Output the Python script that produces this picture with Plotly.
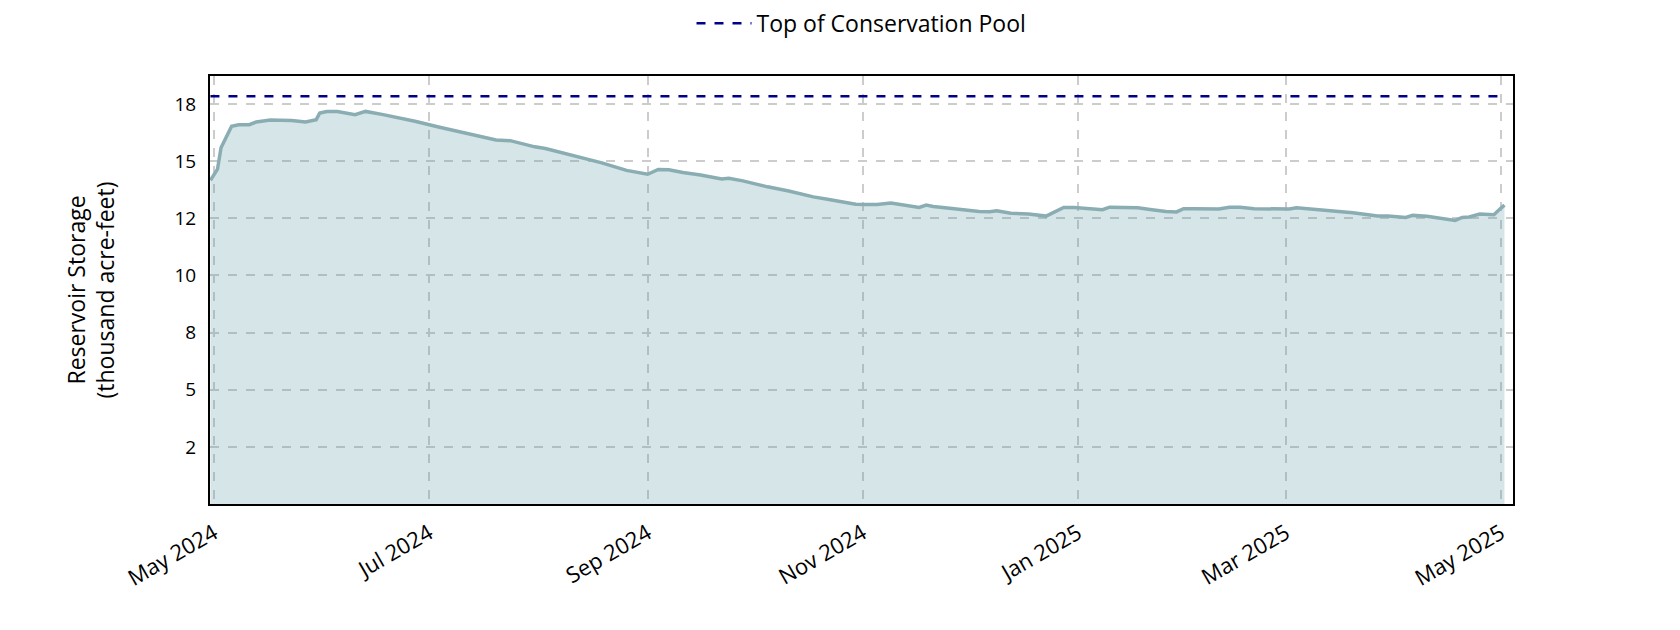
import plotly.graph_objects as go

# storage readings (thousand acre-feet)
dates = [
    "2024-04-30", "2024-05-02", "2024-05-03", "2024-05-04", "2024-05-06",
    "2024-05-08", "2024-05-11", "2024-05-13", "2024-05-15", "2024-05-17",
    "2024-05-23", "2024-05-27", "2024-05-30", "2024-05-31", "2024-06-02",
    "2024-06-05", "2024-06-10", "2024-06-13", "2024-06-18", "2024-06-22",
    "2024-06-27", "2024-07-04", "2024-07-10", "2024-07-16", "2024-07-20",
    "2024-07-24", "2024-07-27", "2024-07-31", "2024-08-03", "2024-08-09",
    "2024-08-19", "2024-08-26", "2024-09-01", "2024-09-04", "2024-09-07",
    "2024-09-11", "2024-09-16", "2024-09-22", "2024-09-24", "2024-09-28",
    "2024-10-05", "2024-10-11", "2024-10-18", "2024-10-22", "2024-10-27",
    "2024-10-30", "2024-11-02", "2024-11-05", "2024-11-09", "2024-11-12",
    "2024-11-17", "2024-11-19", "2024-11-21", "2024-11-25", "2024-11-30",
    "2024-12-04", "2024-12-07", "2024-12-09", "2024-12-13", "2024-12-18",
    "2024-12-23", "2024-12-28", "2024-12-31", "2025-01-05", "2025-01-08",
    "2025-01-10", "2025-01-14", "2025-01-18", "2025-01-22", "2025-01-26",
    "2025-01-29", "2025-01-31", "2025-02-03", "2025-02-10", "2025-02-13",
    "2025-02-16", "2025-02-20", "2025-03-02", "2025-03-04", "2025-03-07",
    "2025-03-14", "2025-03-20", "2025-03-27", "2025-03-30", "2025-04-04",
    "2025-04-06", "2025-04-10", "2025-04-14", "2025-04-18", "2025-04-20",
    "2025-04-22", "2025-04-25", "2025-04-27", "2025-04-29", "2025-05-01",
    "2025-05-02",
]
storage = [
    14.17, 14.65, 15.59, 15.88, 16.53,
    16.60, 16.60, 16.72, 16.75, 16.80,
    16.78, 16.72, 16.82, 17.11, 17.18,
    17.18, 17.04, 17.18, 17.04, 16.92,
    16.75, 16.49, 16.28, 16.05, 15.93,
    15.90, 15.78, 15.63, 15.56, 15.33,
    14.93, 14.60, 14.43, 14.64, 14.63,
    14.51, 14.40, 14.22, 14.25, 14.14,
    13.88, 13.70, 13.44, 13.34, 13.22,
    13.12, 13.11, 13.11, 13.17, 13.11,
    12.98, 13.08, 13.02, 12.95, 12.86,
    12.80, 12.79, 12.83, 12.72, 12.69,
    12.60, 12.98, 12.98, 12.93, 12.88,
    12.99, 12.98, 12.96, 12.88, 12.80,
    12.78, 12.92, 12.92, 12.91, 12.99,
    12.99, 12.92, 12.91, 12.96, 12.92,
    12.86, 12.75, 12.60, 12.60, 12.54,
    12.63, 12.59, 12.49, 12.41, 12.54,
    12.56, 12.69, 12.69, 12.66, 12.95,
    13.08,
]

conservation_pool = 17.84

ytick_vals = [2.5, 5, 7.5, 10, 12.5, 15, 17.5]
ytick_text = ["2", "5", "8", "10", "12", "15", "18"]
xtick_vals = ["2024-05-01", "2024-07-01", "2024-09-01", "2024-11-01",
              "2025-01-01", "2025-03-01", "2025-05-01"]
xtick_text = ["May 2024", "Jul 2024", "Sep 2024", "Nov 2024",
              "Jan 2025", "Mar 2025", "May 2025"]

fig = go.Figure()

# translucent fill so the dashed grid still shows through, like the original
fig.add_trace(go.Scatter(
    x=dates, y=storage, mode="lines", fill="tozeroy",
    fillcolor="rgba(91,151,159,0.25)", line=dict(color="#8aadb3", width=3.5),
    showlegend=False, hoverinfo="x+y"))

fig.add_trace(go.Scatter(
    x=[dates[0], dates[-1]], y=[conservation_pool, conservation_pool],
    mode="lines", name="Top of Conservation Pool",
    line=dict(color="#00008b", width=2.5, dash="dash")))

# page body has an 8px margin, so the figure is sized to fit inside it
fig.update_layout(
    width=1664, height=614,
    margin=dict(l=202, r=159, t=68, b=118),
    paper_bgcolor="white", plot_bgcolor="white",
    font=dict(family="Open Sans", size=18, color="black"),
    legend=dict(orientation="h", x=0.5, xanchor="center",
                yref="container", y=0.975, yanchor="middle",
                itemwidth=55, font=dict(size=23)),
)

fig.update_xaxes(
    type="date", range=["2024-04-29 21:00", "2025-05-04 10:00"],
    tickvals=xtick_vals, ticktext=xtick_text, tickangle=-30,
    tickfont=dict(size=22), ticklabelstandoff=6,
    showgrid=True, gridcolor="#cccccc", gridwidth=1.5, griddash="dash",
    showline=True, linecolor="black", linewidth=2, mirror=True,
    ticks="", zeroline=False)

fig.update_yaxes(
    range=[0, 18.73], tickvals=ytick_vals, ticktext=ytick_text,
    tickfont=dict(size=19),
    showgrid=True, gridcolor="#cccccc", gridwidth=1.5, griddash="dash",
    showline=True, linecolor="black", linewidth=2, mirror=True,
    ticks="", ticklabelstandoff=8, zeroline=False,
    title=dict(text="Reservoir Storage<br>(thousand acre-feet)", standoff=53,
               font=dict(size=23)))

fig.write_html("out.html")
